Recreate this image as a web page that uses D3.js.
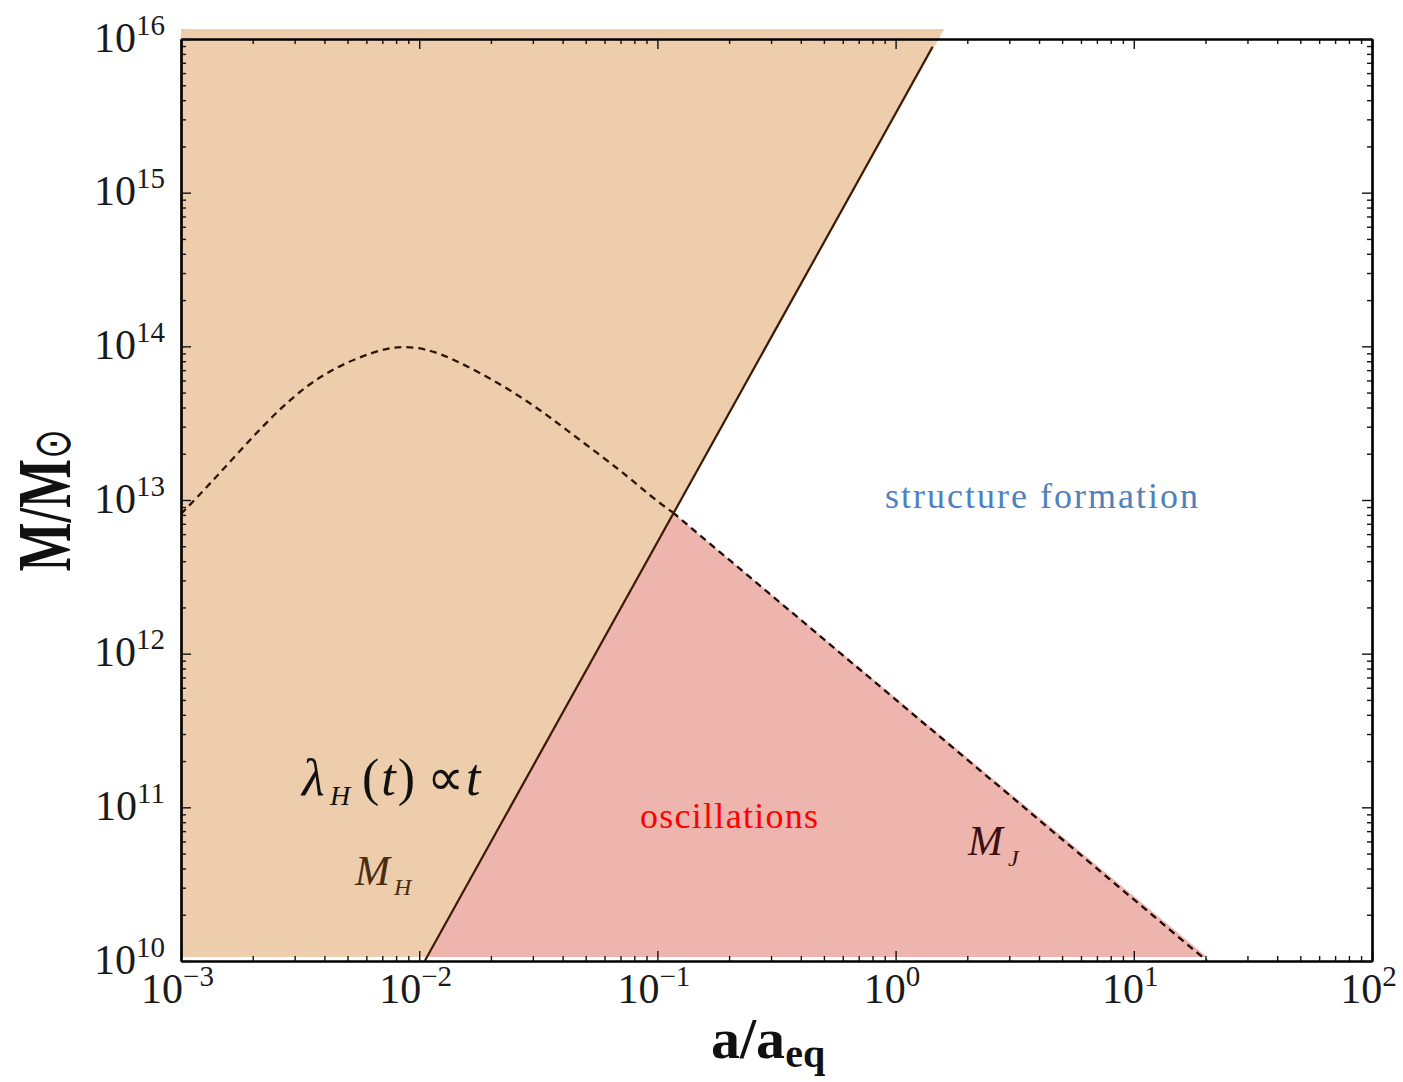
<!DOCTYPE html>
<html>
<head>
<meta charset="utf-8">
<script src="https://cdn.jsdelivr.net/npm/d3@7"></script>
<style>
  body { margin: 0; background: #fff; }
  text { font-family: "Liberation Serif", "Times New Roman", serif; }
</style>
</head>
<body>
<svg id="chart" width="1403" height="1082"></svg>
<script>
// axis ranges and tick labels
var xDomain = [1e-3, 1e2];
var yDomain = [1e10, 1e16];
var xMajor = [1e-3, 1e-2, 1e-1, 1e0, 1e1, 1e2];
var xExp = ["\u22123", "\u22122", "\u22121", "0", "1", "2"];
var yMajor = [1e10, 1e11, 1e12, 1e13, 1e14, 1e15, 1e16];
var yExp = ["10", "11", "12", "13", "14", "15", "16"];

// dashed curve in the upper-left
var curveA = [1.0e-3, 1.34e-3, 1.82e-3, 2.50e-3, 3.44e-3, 4.78e-3, 7.04e-3, 8.53e-3,
              1.12e-2, 1.81e-2, 2.94e-2, 4.45e-2, 7.01e-2, 9.64e-2, 0.116];
var curveM = [8.1e12, 1.30e13, 2.20e13, 3.71e13, 5.73e13, 7.73e13, 9.68e13, 9.97e13,
              9.68e13, 6.76e13, 4.31e13, 2.63e13, 1.56e13, 1.02e13, 8.3e12];

// horizon mass M_H (solid) and Jeans mass M_J (dashed)
var hubbleA = [0.01055, 1.43];
var hubbleM = [1.0e10, 8.9e15];
var jeansA = [0.116, 20.3];
var jeansM = [8.3e12, 1.0e10];

// shaded regions
var hubbleFillA = [1e-3, 1e-3, 1.6, 0.0107];
var hubbleFillM = [1.06e10, 1.16e16, 1.16e16, 1.06e10];
var jeansFillA = [0.0107, 0.116, 20.3];
var jeansFillM = [1.06e10, 8.3e12, 1.06e10];

var mLeft = 181, mTop = 39, width = 1191, height = 922;

var svg = d3.select("#chart");
var g = svg.append("g").attr("transform", "translate(" + mLeft + "," + mTop + ")");

var x = d3.scaleLog().domain(xDomain).range([0, width]);
var y = d3.scaleLog().domain(yDomain).range([height, 0]);

function pts(as, ms) {
  return as.map(function(a, i) { return [a, ms[i]]; });
}
var line = d3.line().x(function(d) { return x(d[0]); }).y(function(d) { return y(d[1]); });

// fills
g.append("path")
  .attr("d", line(pts(hubbleFillA, hubbleFillM)) + "Z")
  .attr("fill", "#eecdac");
g.append("path")
  .attr("d", line(pts(jeansFillA, jeansFillM)) + "Z")
  .attr("fill", "#edb5ae");

// curves
g.append("path")
  .attr("d", d3.line().curve(d3.curveBasis)
    .x(function(d) { return x(d[0]); }).y(function(d) { return y(d[1]); })(pts(curveA, curveM)))
  .attr("fill", "none").attr("stroke", "#2b1606").attr("stroke-width", 2.3)
  .attr("stroke-dasharray", "7,5");
g.append("path")
  .attr("d", line(pts(jeansA, jeansM)))
  .attr("fill", "none").attr("stroke", "#1e0a05").attr("stroke-width", 2.3)
  .attr("stroke-dasharray", "7,5");
g.append("path")
  .attr("d", line(pts(hubbleA, hubbleM)))
  .attr("fill", "none").attr("stroke", "#3b1a05").attr("stroke-width", 2.2);

// axes: minor ticks, then major ticks, on all four sides (ticks point inward)
var xMinor = x.ticks().filter(function(v) { return xMajor.indexOf(v) < 0; });
var yMinor = y.ticks().filter(function(v) { return yMajor.indexOf(v) < 0; });

function styleAxis(sel) {
  sel.select(".domain").attr("stroke", "#000").attr("stroke-width", 2.2);
  sel.selectAll(".tick line").attr("stroke", "#111").attr("stroke-width", 1.4);
}

[["bottom", height], ["top", 0]].forEach(function(s) {
  var mk = s[0] == "bottom" ? d3.axisBottom : d3.axisTop;
  g.append("g").attr("transform", "translate(0," + s[1] + ")")
    .call(mk(x).tickValues(xMinor).tickSizeInner(-5).tickSizeOuter(0).tickFormat(""))
    .call(styleAxis);
  g.append("g").attr("class", "x-major-" + s[0]).attr("transform", "translate(0," + s[1] + ")")
    .call(mk(x).tickValues(xMajor).tickSizeInner(-10).tickSizeOuter(0).tickFormat(""))
    .call(styleAxis);
});
[["left", 0], ["right", width]].forEach(function(s) {
  var mk = s[0] == "left" ? d3.axisLeft : d3.axisRight;
  g.append("g").attr("transform", "translate(" + s[1] + ",0)")
    .call(mk(y).tickValues(yMinor).tickSizeInner(-5).tickSizeOuter(0).tickFormat(""))
    .call(styleAxis);
  g.append("g").attr("class", "y-major-" + s[0]).attr("transform", "translate(" + s[1] + ",0)")
    .call(mk(y).tickValues(yMajor).tickSizeInner(-10).tickSizeOuter(0).tickFormat(""))
    .call(styleAxis);
});

// tick labels as 10^n
g.select(".x-major-bottom").selectAll(".tick").each(function(d, i) {
  var t = d3.select(this).append("text")
    .attr("x", -4).attr("y", 42)
    .attr("text-anchor", "middle")
    .attr("fill", "#1a1a1a").attr("font-size", 42);
  t.append("tspan").text("10");
  t.append("tspan").attr("dy", -17).attr("font-size", 29).text(xExp[i]);
});
g.select(".y-major-left").selectAll(".tick").each(function(d, i) {
  var t = d3.select(this).append("text")
    .attr("x", -16).attr("y", 12)
    .attr("text-anchor", "end")
    .attr("fill", "#1a1a1a").attr("font-size", 42);
  t.append("tspan").text("10");
  t.append("tspan").attr("dy", -17).attr("font-size", 29).text(yExp[i]);
});

// axis titles
var xt = svg.append("text")
  .attr("x", 711).attr("y", 1058)
  .attr("font-size", 58).attr("font-weight", "bold").attr("fill", "#111");
xt.append("tspan").text("a/a");
xt.append("tspan").attr("dy", 9).attr("font-size", 40).text("eq");

var yt = svg.append("text")
  .attr("transform", "translate(70,500) rotate(-90) scale(1,1.45)")
  .attr("text-anchor", "middle")
  .attr("font-size", 52).attr("font-weight", "bold").attr("fill", "#111");
yt.append("tspan").text("M/M");
yt.append("tspan").attr("font-size", 36).attr("font-weight", "normal").text("\u2299");

// region labels
svg.append("text").attr("x", 885).attr("y", 508)
  .attr("font-size", 36).attr("fill", "#4f81bd")
  .attr("textLength", 313).attr("lengthAdjust", "spacing")
  .text("structure formation");
svg.append("text").attr("x", 640).attr("y", 828)
  .attr("font-size", 36).attr("fill", "#ff0000")
  .attr("textLength", 178).attr("lengthAdjust", "spacing")
  .text("oscillations");

var lam = svg.append("text").attr("y", 795).attr("font-size", 52).attr("fill", "#111").attr("font-style", "italic");
lam.append("tspan").attr("x", 302).text("\u03bb");
lam.append("tspan").attr("x", 330).attr("dy", 10).attr("font-size", 28).text("H");
lam.append("tspan").attr("x", 362).attr("dy", -10).attr("font-style", "normal").text("(");
lam.append("tspan").attr("dx", 2).text("t");
lam.append("tspan").attr("dx", 2).attr("font-style", "normal").text(")");
lam.append("tspan").attr("x", 427).attr("font-style", "normal").text("\u221d");
lam.append("tspan").attr("x", 466).text("t");

var mh = svg.append("text").attr("y", 885).attr("font-size", 42).attr("fill", "#4a2c0e").attr("font-style", "italic");
mh.append("tspan").attr("x", 355).text("M");
mh.append("tspan").attr("x", 394).attr("dy", 10).attr("font-size", 24).text("H");

var mj = svg.append("text").attr("y", 855).attr("font-size", 42).attr("fill", "#3d0f0f").attr("font-style", "italic");
mj.append("tspan").attr("x", 968).text("M");
mj.append("tspan").attr("x", 1008).attr("dy", 11).attr("font-size", 24).text("J");
</script>
</body>
</html>
